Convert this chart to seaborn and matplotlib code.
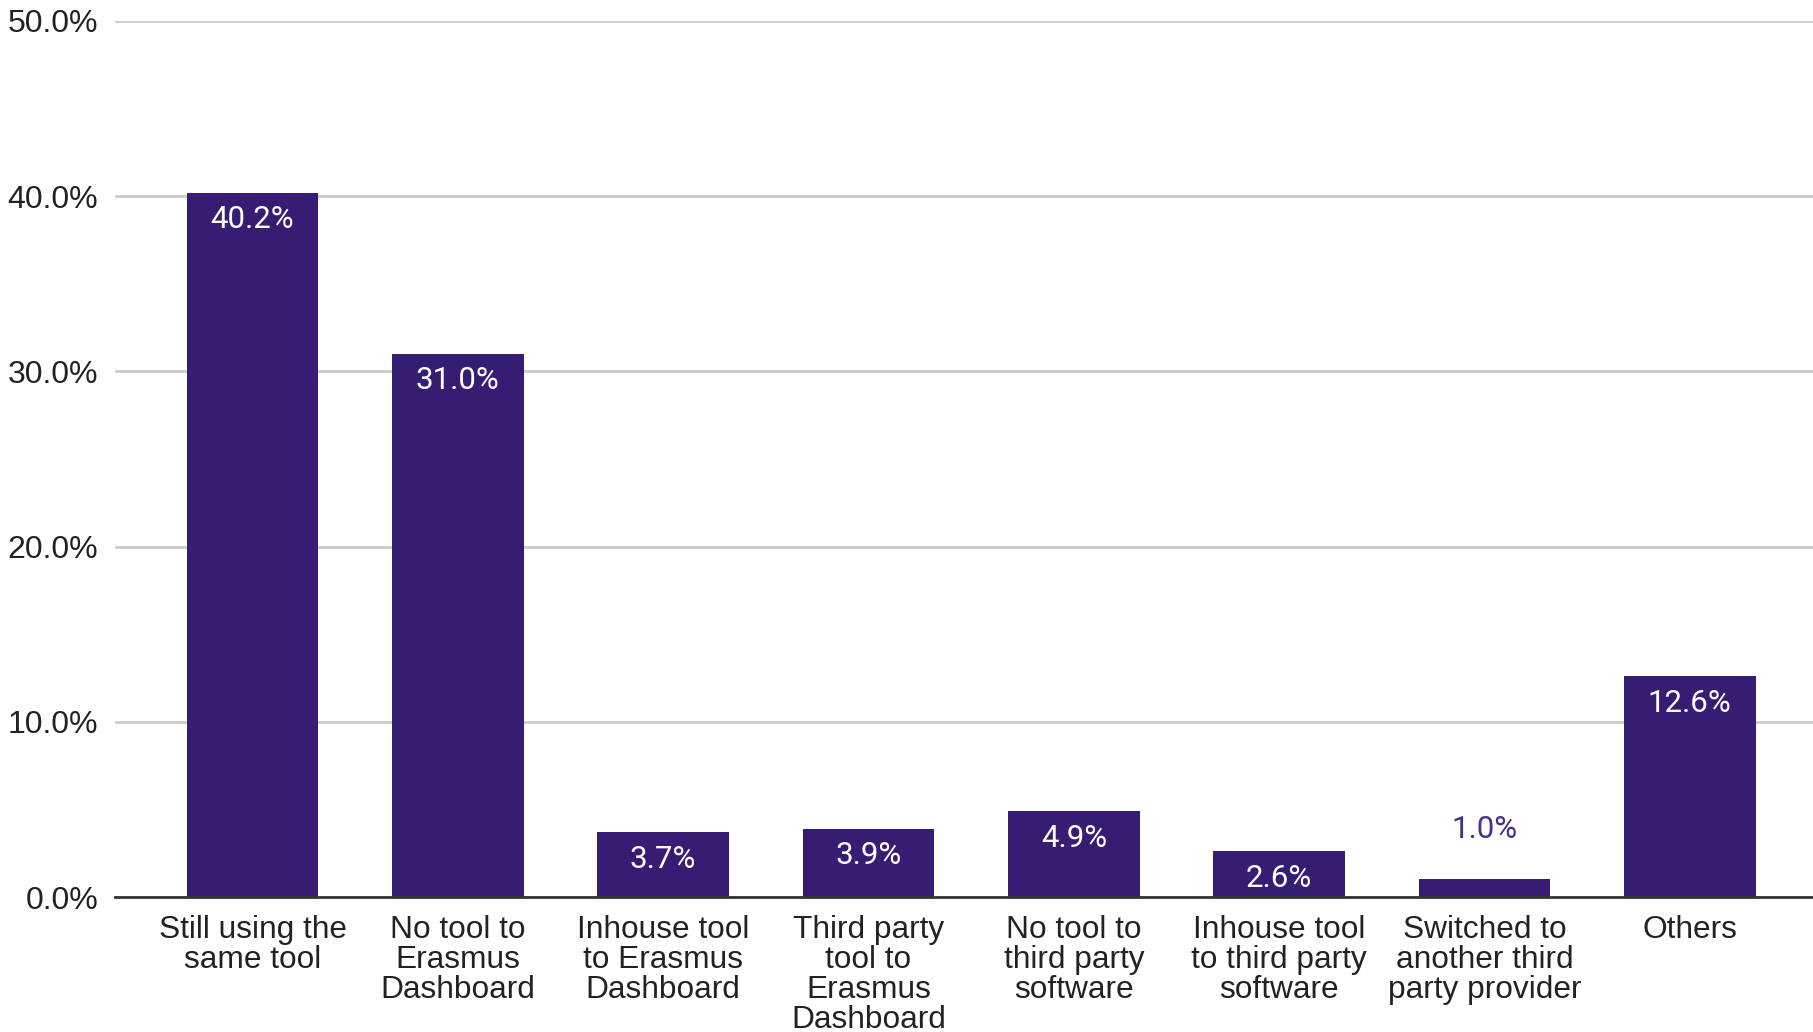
import matplotlib
matplotlib.use("Agg")
import matplotlib.pyplot as plt
import seaborn as sns
import pandas as pd
from matplotlib.ticker import FuncFormatter

categories = [
    "Still using the\nsame tool",
    "No tool to\nErasmus\nDashboard",
    "Inhouse tool\nto Erasmus\nDashboard",
    "Third party\ntool to\nErasmus\nDashboard",
    "No tool to\nthird party\nsoftware",
    "Inhouse tool\nto third party\nsoftware",
    "Switched to\nanother third\nparty provider",
    "Others",
]
values = [40.2, 31.0, 3.7, 3.9, 4.9, 2.6, 1.0, 12.6]
y_ticks = [0, 10, 20, 30, 40, 50]

BAR = "#371c74"

sns.set_theme(style="white")
plt.rcParams["font.family"] = ["Liberation Sans", "DejaVu Sans"]

df = pd.DataFrame({"cat": categories, "val": values})

fig = plt.figure(figsize=(18.13, 10.32), dpi=100)
ax = fig.add_axes([0.0634, 0.1308, 0.9366, 0.8489])

sns.barplot(data=df, x="cat", y="val", color=BAR, width=0.64, ax=ax,
            saturation=1, edgecolor="none", zorder=3)

ax.set_xlim(-0.67, 7.60)
ax.set_ylim(0, 50)
ax.set_yticks(y_ticks)
ax.yaxis.set_major_formatter(FuncFormatter(lambda v, p: f"{v:.1f}%"))
ax.grid(axis="y", color="#cccccc", linewidth=2, zorder=0)
ax.grid(axis="x", visible=False)
for s in ["top", "right", "left"]:
    ax.spines[s].set_visible(False)
ax.spines["bottom"].set_color("#333333")
ax.spines["bottom"].set_linewidth(2)
ax.spines["bottom"].set_zorder(4)
ax.set_xlabel("")
ax.set_ylabel("")
ax.tick_params(axis="y", length=0, pad=12, labelsize=23, labelcolor="#222222")
ax.tick_params(axis="x", length=0, pad=13, labelsize=22.8, labelcolor="#222222")
for lbl in ax.get_xticklabels():
    lbl.set_linespacing(1.0)

# data labels
for i, v in enumerate(values):
    txt = f"{v:.1f}%"
    if v < 2:
        ax.annotate(txt, (i, v), xytext=(0, 50 * 0.72), textcoords="offset points",
                    ha="center", va="center", fontsize=22.5, color="#4a2f8a",
                    family=["Roboto", "DejaVu Sans"])
    else:
        ax.annotate(txt, (i, v), xytext=(0, -27 * 0.72), textcoords="offset points",
                    ha="center", va="center", fontsize=22.5, color="white",
                    family=["Roboto", "DejaVu Sans"], zorder=5)

fig.savefig("out.png", dpi=100, facecolor="white")
